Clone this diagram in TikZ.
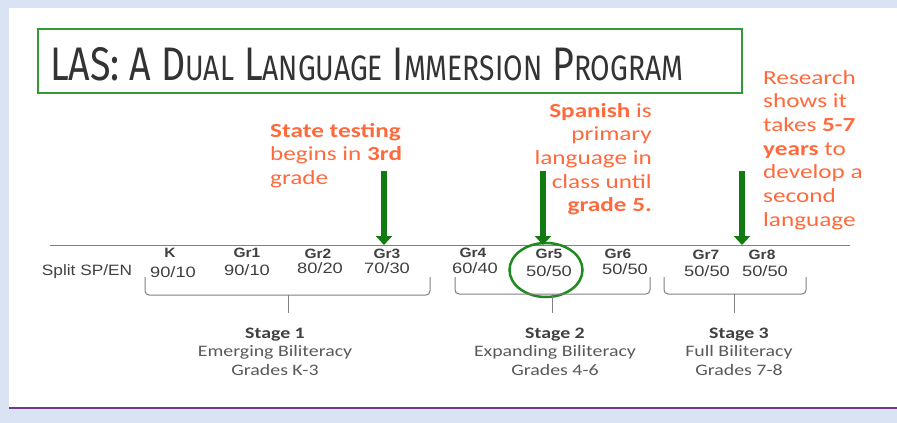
\documentclass[tikz,border=0pt]{standalone}
\usepackage{fontspec}
\usepackage{graphicx}
\setmainfont{Carlito}
\newfontfamily\arialf{Liberation Sans}
\newfontfamily\titlef{Fira Sans}
\usetikzlibrary{arrows.meta,shapes.geometric}

\definecolor{bgblue}{HTML}{DAE3F3}
\definecolor{rulepurple}{HTML}{6F3A8C}
\definecolor{titlegreen}{HTML}{339933}
\definecolor{arrowgreen}{HTML}{117A11}
\definecolor{ringgreen}{HTML}{1F8A1F}
\definecolor{noteorange}{HTML}{FF6A3C}
\definecolor{labelgray}{HTML}{404040}
\definecolor{stagegray}{HTML}{595959}
\definecolor{linegray}{HTML}{808080}

% horizontal stretch of a box
\newcommand\wide[2]{\scalebox{#1}[1]{#2}}
% small capitals for the heading
\newcommand\smc[1]{{\fontsize{36}{36}\selectfont #1}}

\begin{document}
\begin{tikzpicture}[x=1pt,y=-1pt,
  grade/.style={inner sep=0pt, text=labelgray, font=\arialf\bfseries\fontsize{13.5}{14}\selectfont},
  split/.style={inner sep=0pt, text=labelgray, font=\arialf\fontsize{15}{16}\selectfont},
  note/.style={inner sep=0pt, text=noteorange, font=\fontsize{20}{23.7}\selectfont},
  stage/.style={inner sep=0pt, text=stagegray, font=\fontsize{16}{18.5}\selectfont},
  garrow/.style={draw=arrowgreen, line width=6pt, -{Triangle[width=16pt,length=9pt]}},
  bracket/.style={draw=linegray, line width=1pt, rounded corners=4pt},
]
\useasboundingbox (0,0) rectangle (897,423);

% page background, white panel and bottom rule
\fill[bgblue] (0,0) rectangle (897,423);
\fill[white] (9,8) rectangle (897,407);
\draw[rulepurple, line width=2.5pt] (9,408) -- (897,408);

% heading
\node[draw=titlegreen, line width=2.5pt, minimum width=704pt, minimum height=64pt, inner sep=0pt] (titlebox) at (390,61) {};
\node[anchor=base west, inner sep=0pt, text=black!80] (title) at (50,80)
  {\resizebox{633pt}{33pt}{\titlef\fontsize{48}{48}\selectfont LAS: A D\smc{UAL} L\smc{ANGUAGE} I\smc{MMERSION} P\smc{ROGRAM}}};

% time line
\coordinate (tl0) at (50,245);
\coordinate (tl1) at (850,245);
\draw[linegray, line width=1pt] (tl0) -- (tl1);

\node[split] (splitlbl) at (87,272) {\wide{1.15}{Split SP/EN}};

\node[grade] (k)   at (170,253) {\wide{1.15}{K}};
\node[grade] (gr1) at (247,253) {\wide{1.15}{Gr1}};
\node[grade] (gr2) at (318,254) {\wide{1.15}{Gr2}};
\node[grade] (gr3) at (387,254) {\wide{1.15}{Gr3}};
\node[grade] (gr4) at (473,253) {\wide{1.15}{Gr4}};
\node[grade] (gr5) at (549,254) {\wide{1.15}{Gr5}};
\node[grade] (gr6) at (618,254) {\wide{1.15}{Gr6}};
\node[grade] (gr7) at (706,255) {\wide{1.15}{Gr7}};
\node[grade] (gr8) at (762,255) {\wide{1.15}{Gr8}};

\node[split] (p0) at (173,272) {\wide{1.22}{90/10}};
\node[split] (p1) at (247,270) {\wide{1.22}{90/10}};
\node[split] (p2) at (320,268) {\wide{1.22}{80/20}};
\node[split] (p3) at (387,268) {\wide{1.22}{70/30}};
\node[split] (p4) at (475,268) {\wide{1.22}{60/40}};
\node[split] (p5) at (549,271) {\wide{1.22}{50/50}};
\node[split] (p6) at (625,269) {\wide{1.22}{50/50}};
\node[split] (p7) at (707,271) {\wide{1.22}{50/50}};
\node[split] (p8) at (765,271) {\wide{1.22}{50/50}};

% ring around grade 5
\node[draw=ringgreen, line width=2.5pt, ellipse, minimum width=73pt, minimum height=54pt, inner sep=0pt] (ring) at (546,270) {};

% stage brackets
\coordinate (b1l) at (145,277); \coordinate (b1m) at (288,295); \coordinate (b1r) at (430,277); \coordinate (b1t) at (288,313);
\coordinate (b2l) at (455,277); \coordinate (b2m) at (552,294); \coordinate (b2r) at (650,277); \coordinate (b2t) at (552,313);
\coordinate (b3l) at (664,277); \coordinate (b3m) at (734,294); \coordinate (b3r) at (806,277); \coordinate (b3t) at (734,313);
\draw[bracket] (b1l) |- (b1m) -| (b1r);
\draw[bracket] (b1m) -- (b1t);
\draw[bracket] (b2l) |- (b2m) -| (b2r);
\draw[bracket] (b2m) -- (b2t);
\draw[bracket] (b3l) |- (b3m) -| (b3r);
\draw[bracket] (b3m) -- (b3t);

% stage captions
\node[stage, anchor=base] (s1) at (275,338) {\wide{1.24}{\begin{tabular}[t]{@{}c@{}}{\bfseries\color{labelgray}Stage 1}\\Emerging Biliteracy\\Grades K-3\end{tabular}}};
\node[stage, anchor=base] (s2) at (555,338) {\wide{1.24}{\begin{tabular}[t]{@{}c@{}}{\bfseries\color{labelgray}Stage 2}\\Expanding Biliteracy\\Grades 4-6\end{tabular}}};
\node[stage, anchor=base] (s3) at (739,338) {\wide{1.24}{\begin{tabular}[t]{@{}c@{}}{\bfseries\color{labelgray}Stage 3}\\Full Biliteracy\\Grades 7-8\end{tabular}}};

% notes
\node[note, anchor=base west] (n1) at (270,137) {\wide{1.26}{\begin{tabular}[t]{@{}l@{}}{\bfseries State testing}\\begins in {\bfseries 3rd}\\grade\end{tabular}}};
\node[note, anchor=base east] (n2) at (652,117) {\wide{1.26}{\begin{tabular}[t]{@{}r@{}}{\bfseries Spanish} is\\primary\\language in\\class until\\{\bfseries grade 5.}\end{tabular}}};
\node[note, anchor=base west] (n3) at (763,84) {\wide{1.26}{\begin{tabular}[t]{@{}l@{}}Research\\shows it\\takes {\bfseries 5-7}\\{\bfseries years} to\\develop a\\second\\language\end{tabular}}};

% arrows down to the time line
\coordinate (a1) at (384,171);
\coordinate (a2) at (543,171);
\coordinate (a3) at (742,171);
\draw[garrow] (a1) -- (a1 |- tl0) ;
\draw[garrow] (a2) -- (a2 |- tl0);
\draw[garrow] (a3) -- (a3 |- tl0);
\end{tikzpicture}
\end{document}
